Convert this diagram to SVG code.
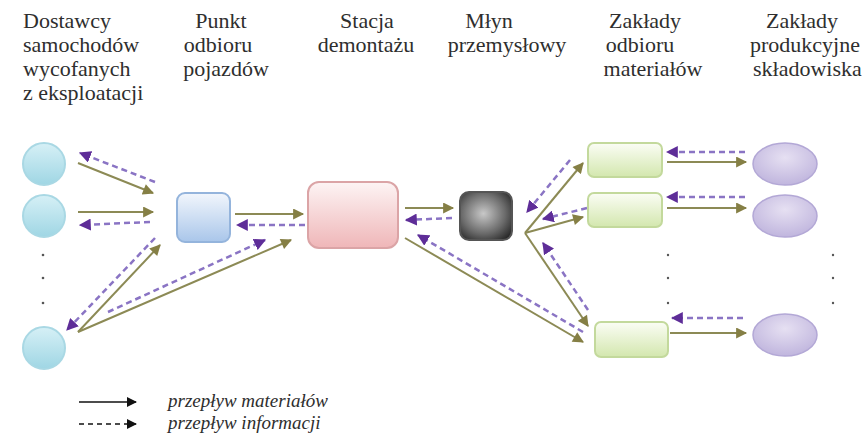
<svg xmlns="http://www.w3.org/2000/svg" width="866" height="434" viewBox="0 0 866 434">
<defs>
<marker id="ma" viewBox="0 0 10 10" refX="9" refY="5" markerWidth="12" markerHeight="11" markerUnits="userSpaceOnUse" orient="auto"><path d="M0,0 L10,5 L0,10 z" fill="#857f45"/></marker>
<marker id="ia" viewBox="0 0 10 10" refX="9" refY="5" markerWidth="12" markerHeight="12" markerUnits="userSpaceOnUse" orient="auto"><path d="M0,0 L10,5 L0,10 z" fill="#5e2d98"/></marker>
<marker id="ka" viewBox="0 0 10 10" refX="9" refY="5" markerWidth="10" markerHeight="10" markerUnits="userSpaceOnUse" orient="auto"><path d="M0,0 L10,5 L0,10 z" fill="#111"/></marker>
<linearGradient id="gc" x1="0" y1="0" x2="0" y2="1"><stop offset="0" stop-color="#d6f0f6"/><stop offset="1" stop-color="#9fd6e4"/></linearGradient>
<linearGradient id="gb" x1="0" y1="0" x2="0" y2="1"><stop offset="0" stop-color="#f2f6fc"/><stop offset="1" stop-color="#a9c6ea"/></linearGradient>
<linearGradient id="gp" x1="0" y1="0" x2="0" y2="1"><stop offset="0" stop-color="#fdf4f4"/><stop offset="1" stop-color="#efb6b8"/></linearGradient>
<radialGradient id="gg" cx="0.45" cy="0.45" r="0.7"><stop offset="0" stop-color="#c8c8c8"/><stop offset="0.6" stop-color="#6a6a6a"/><stop offset="1" stop-color="#222"/></radialGradient>
<linearGradient id="gn" x1="0" y1="0" x2="0" y2="1"><stop offset="0" stop-color="#fbfdf5"/><stop offset="1" stop-color="#d3e7ae"/></linearGradient>
<radialGradient id="ge" cx="0.5" cy="0.35" r="0.7"><stop offset="0" stop-color="#e6e0f2"/><stop offset="1" stop-color="#bdb2dc"/></radialGradient>
</defs>
<rect width="866" height="434" fill="#ffffff"/>

<g id="labels" fill="#2e2e2e" font-family="Liberation Serif, serif" font-size="22">
<text x="23" y="28" font-family="Liberation Serif, serif" style="font-family:'Liberation Serif',serif;font-size:22px">Dostawcy</text>
<text x="23" y="52" font-family="Liberation Serif, serif" style="font-family:'Liberation Serif',serif;font-size:22px">samochodów</text>
<text x="23" y="76" font-family="Liberation Serif, serif" style="font-family:'Liberation Serif',serif;font-size:22px">wycofanych</text>
<text x="23" y="100" font-family="Liberation Serif, serif" style="font-family:'Liberation Serif',serif;font-size:22px">z eksploatacji</text>
<text x="221" y="28" text-anchor="middle" font-family="Liberation Serif, serif" style="font-family:'Liberation Serif',serif;font-size:22px">Punkt</text>
<text x="218" y="52" text-anchor="middle" font-family="Liberation Serif, serif" style="font-family:'Liberation Serif',serif;font-size:22px">odbioru</text>
<text x="226" y="76" text-anchor="middle" font-family="Liberation Serif, serif" style="font-family:'Liberation Serif',serif;font-size:22px">pojazdów</text>
<text x="367" y="28" text-anchor="middle" font-family="Liberation Serif, serif" style="font-family:'Liberation Serif',serif;font-size:22px">Stacja</text>
<text x="366" y="52" text-anchor="middle" font-family="Liberation Serif, serif" style="font-family:'Liberation Serif',serif;font-size:22px">demontażu</text>
<text x="489" y="28" text-anchor="middle" font-family="Liberation Serif, serif" style="font-family:'Liberation Serif',serif;font-size:22px">Młyn</text>
<text x="507" y="52" text-anchor="middle" font-family="Liberation Serif, serif" style="font-family:'Liberation Serif',serif;font-size:22px">przemysłowy</text>
<text x="645" y="28" text-anchor="middle" font-family="Liberation Serif, serif" style="font-family:'Liberation Serif',serif;font-size:22px">Zakłady</text>
<text x="640" y="52" text-anchor="middle" font-family="Liberation Serif, serif" style="font-family:'Liberation Serif',serif;font-size:22px">odbioru</text>
<text x="653" y="76" text-anchor="middle" font-family="Liberation Serif, serif" style="font-family:'Liberation Serif',serif;font-size:22px">materiałów</text>
<text x="802" y="28" text-anchor="middle" font-family="Liberation Serif, serif" style="font-family:'Liberation Serif',serif;font-size:22px">Zakłady</text>
<text x="805" y="52" text-anchor="middle" font-family="Liberation Serif, serif" style="font-family:'Liberation Serif',serif;font-size:22px">produkcyjne</text>
<text x="753" y="76" font-family="Liberation Serif, serif" style="font-family:'Liberation Serif',serif;font-size:22px">składowiska</text>
</g>

<g id="connectors" fill="none">
<g id="material-flow" stroke="#8c8a55" stroke-width="2">
<line x1="78" y1="163" x2="153" y2="193" marker-end="url(#ma)"/>
<line x1="78" y1="212" x2="153" y2="212" marker-end="url(#ma)"/>
<line x1="78" y1="332" x2="160" y2="245" marker-end="url(#ma)"/>
<line x1="78" y1="332" x2="291" y2="240" marker-end="url(#ma)"/>
<line x1="235" y1="214" x2="303" y2="214" marker-end="url(#ma)"/>
<line x1="405" y1="208" x2="453" y2="208" marker-end="url(#ma)"/>
<line x1="405" y1="238" x2="583" y2="342" marker-end="url(#ma)"/>
<line x1="525" y1="233" x2="583" y2="163" marker-end="url(#ma)"/>
<line x1="525" y1="233" x2="583" y2="217" marker-end="url(#ma)"/>
<line x1="525" y1="233" x2="588" y2="326" marker-end="url(#ma)"/>
<line x1="667" y1="162" x2="746" y2="162" marker-end="url(#ma)"/>
<line x1="667" y1="208" x2="746" y2="208" marker-end="url(#ma)"/>
<line x1="670" y1="333" x2="746" y2="333" marker-end="url(#ma)"/>
</g>
<g id="info-flow" stroke="#8a74c4" stroke-width="2.5" stroke-dasharray="6,4">
<line x1="155" y1="182" x2="80" y2="153" marker-end="url(#ia)"/>
<line x1="150" y1="222" x2="80" y2="225" marker-end="url(#ia)"/>
<line x1="155" y1="238" x2="67" y2="330" marker-end="url(#ia)"/>
<line x1="108" y1="312" x2="265" y2="240" marker-end="url(#ia)"/>
<line x1="305" y1="225" x2="237" y2="225" marker-end="url(#ia)"/>
<line x1="452" y1="218" x2="406" y2="220" marker-end="url(#ia)"/>
<line x1="583" y1="332" x2="418" y2="235" marker-end="url(#ia)"/>
<line x1="570" y1="160" x2="527" y2="212" marker-end="url(#ia)"/>
<line x1="587" y1="208" x2="543" y2="219" marker-end="url(#ia)"/>
<line x1="588" y1="310" x2="543" y2="243" marker-end="url(#ia)"/>
<line x1="745" y1="152" x2="667" y2="152" marker-end="url(#ia)"/>
<line x1="745" y1="197" x2="667" y2="197" marker-end="url(#ia)"/>
<line x1="743" y1="318" x2="672" y2="318" marker-end="url(#ia)"/>
</g>
</g>

<g id="dostawcy">
<ellipse cx="44" cy="164" rx="21" ry="21" fill="url(#gc)" stroke="#a9d8e4" stroke-width="2"/>
<ellipse cx="44" cy="216" rx="21" ry="21" fill="url(#gc)" stroke="#a9d8e4" stroke-width="2"/>
<ellipse cx="44" cy="348" rx="21" ry="21" fill="url(#gc)" stroke="#a9d8e4" stroke-width="2"/>
<g fill="#555"><circle cx="43" cy="255" r="1.3"/><circle cx="43" cy="278" r="1.3"/><circle cx="43" cy="303" r="1.3"/></g>
</g>
<g id="punkt"><rect x="177" y="193" width="53" height="49" rx="8" fill="url(#gb)" stroke="#94b4dc" stroke-width="2"/></g>
<g id="stacja"><rect x="308" y="182" width="90" height="66" rx="11" fill="url(#gp)" stroke="#dba4a6" stroke-width="2"/></g>
<g id="mlyn"><rect x="460" y="192" width="52" height="48" rx="9" fill="url(#gg)" stroke="#555" stroke-width="2"/></g>
<g id="zaklady-odbioru">
<rect x="588" y="143" width="74" height="34" rx="6" fill="url(#gn)" stroke="#c3d99c" stroke-width="2"/>
<rect x="588" y="193" width="74" height="34" rx="6" fill="url(#gn)" stroke="#c3d99c" stroke-width="2"/>
<rect x="595" y="322" width="73" height="35" rx="6" fill="url(#gn)" stroke="#c3d99c" stroke-width="2"/>
<g fill="#555"><circle cx="668" cy="255" r="1.2"/><circle cx="668" cy="278" r="1.2"/><circle cx="668" cy="303" r="1.2"/></g>
</g>
<g id="zaklady-produkcyjne">
<ellipse cx="785" cy="164" rx="32" ry="21" fill="url(#ge)" stroke="#b3a8d6" stroke-width="1.5"/>
<ellipse cx="785" cy="216" rx="32" ry="21" fill="url(#ge)" stroke="#b3a8d6" stroke-width="1.5"/>
<ellipse cx="785" cy="335" rx="32" ry="21" fill="url(#ge)" stroke="#b3a8d6" stroke-width="1.5"/>
<g fill="#555"><circle cx="833" cy="255" r="1.2"/><circle cx="833" cy="278" r="1.2"/><circle cx="833" cy="303" r="1.2"/></g>
</g>

<g id="legend" fill="#2e2e2e">
<line x1="79" y1="402" x2="136" y2="402" stroke="#111" stroke-width="1.5" marker-end="url(#ka)"/>
<line x1="79" y1="424" x2="136" y2="424" stroke="#111" stroke-width="1.5" stroke-dasharray="5,4" marker-end="url(#ka)"/>
<text x="168" y="407" font-family="Liberation Serif, serif" style="font-family:'Liberation Serif',serif;font-size:19px;font-style:italic">przepływ materiałów</text>
<text x="168" y="429" font-family="Liberation Serif, serif" style="font-family:'Liberation Serif',serif;font-size:19px;font-style:italic">przepływ informacji</text>
</g>
</svg>
